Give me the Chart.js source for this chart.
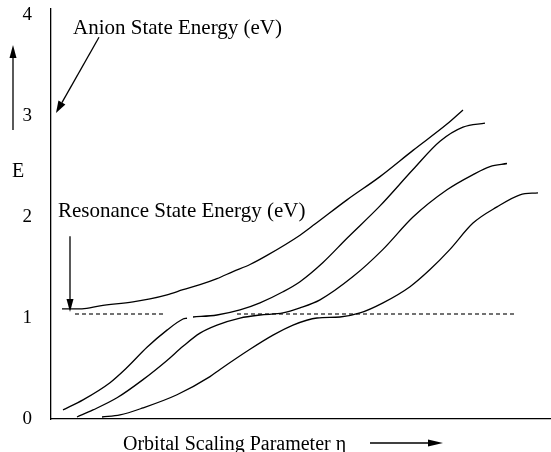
<!DOCTYPE html>
<html>
<head>
<meta charset="utf-8">
<script src="https://cdn.jsdelivr.net/npm/chart.js@4/dist/chart.umd.min.js"></script>
<style>
  body { margin: 0; background: #fff; }
  #wrap { width: 551px; height: 452px; position: relative; }
</style>
</head>
<body>
<div id="wrap"><canvas id="myChart"></canvas></div>
<script>
// orbital scaling parameter (arbitrary units 0-10) and energy (eV)
const curveA_eta = [0.22, 0.62, 0.98, 1.64, 1.98, 2.32, 2.64, 2.98, 3.32, 3.64, 3.98, 4.32, 4.98, 5.28, 5.92, 6.58, 7.24, 7.92, 8.24];
const curveA_E = [1.09, 1.09, 1.12, 1.16, 1.19, 1.23, 1.28, 1.33, 1.39, 1.46, 1.53, 1.62, 1.82, 1.93, 2.17, 2.40, 2.66, 2.92, 3.06];

const curveB_eta = [0.24, 0.64, 1.18, 1.52, 1.92, 2.32, 2.64, 2.72, 2.78, 2.84, 3.32, 3.78, 4.18, 4.64, 4.98, 5.44, 5.92, 6.58, 7.24, 7.78, 8.24, 8.68];
const curveB_E = [0.09, 0.19, 0.36, 0.51, 0.71, 0.88, 0.99, 1.00, null, 1.01, 1.03, 1.08, 1.15, 1.26, 1.36, 1.55, 1.79, 2.11, 2.47, 2.75, 2.89, 2.93];

const curveC_eta = [0.52, 0.84, 1.32, 1.84, 2.32, 2.64, 2.98, 3.32, 3.78, 4.18, 4.64, 4.98, 5.38, 6.04, 6.64, 7.24, 7.92, 8.44, 8.78, 9.12];
const curveC_E = [0.02, 0.09, 0.21, 0.39, 0.58, 0.72, 0.85, 0.93, 1.00, 1.03, 1.05, 1.10, 1.18, 1.41, 1.68, 2.00, 2.27, 2.42, 2.50, 2.53];

const curveD_eta = [1.02, 1.38, 1.84, 2.52, 3.18, 3.38, 3.98, 4.44, 4.84, 5.32, 5.78, 6.18, 6.64, 7.18, 7.58, 7.98, 8.44, 8.92, 9.38, 9.74];
const curveD_E = [0.02, 0.04, 0.11, 0.24, 0.42, 0.49, 0.69, 0.83, 0.93, 1.00, 1.01, 1.05, 1.15, 1.31, 1.48, 1.68, 1.94, 2.10, 2.22, 2.24];

// resonance reference level (dashed), drawn in two pieces
const resonanceLevel = 1.04;
const dash1_eta = [0.48, 2.24];
const dash2_eta = [3.72, 9.32];

const yTicks = [0, 1, 2, 3, 4];

const serif = "'Liberation Serif', 'Times New Roman', serif";

function toPoints(xs, ys) {
  return xs.map((v, i) => ({ x: v, y: ys[i] }));
}

function curve(xs, ys) {
  return {
    data: toPoints(xs, ys),
    borderColor: "#000",
    borderWidth: 1.3,
    pointRadius: 0,
    fill: false,
    cubicInterpolationMode: "monotone",
    spanGaps: false,
  };
}

function dashed(xs) {
  return {
    data: xs.map((v) => ({ x: v, y: resonanceLevel })),
    borderColor: "#444",
    borderWidth: 1.3,
    borderDash: [4, 3],
    pointRadius: 0,
    fill: false,
  };
}

function drawArrow(ctx, x1, y1, x2, y2, headLen, headHalf) {
  const ang = Math.atan2(y2 - y1, x2 - x1);
  const bx = x2 - headLen * Math.cos(ang);
  const by = y2 - headLen * Math.sin(ang);
  ctx.beginPath();
  ctx.moveTo(x1, y1);
  ctx.lineTo(bx, by);
  ctx.stroke();
  ctx.beginPath();
  ctx.moveTo(x2, y2);
  ctx.lineTo(bx + headHalf * Math.sin(ang), by - headHalf * Math.cos(ang));
  ctx.lineTo(bx - headHalf * Math.sin(ang), by + headHalf * Math.cos(ang));
  ctx.closePath();
  ctx.fill();
}

/*=============== LABELS AND ARROWS ===============*/
const annotations = {
  id: "annotations",
  afterDraw(chart) {
    const { ctx, chartArea } = chart;
    const x = chart.scales.x, y = chart.scales.y;
    ctx.save();
    ctx.fillStyle = "#000";
    ctx.strokeStyle = "#000";
    ctx.lineWidth = 1.3;
    ctx.textBaseline = "middle";

    // anion state label + arrow onto the axis near E = 3
    ctx.font = "21px " + serif;
    ctx.textAlign = "left";
    ctx.fillText("Anion State Energy (eV)", x.getPixelForValue(0.44), y.getPixelForValue(3.87));
    drawArrow(ctx, x.getPixelForValue(0.96), y.getPixelForValue(3.78),
      x.getPixelForValue(0.1), y.getPixelForValue(3.03), 12, 4);

    // resonance state label + arrow down to curve A start
    ctx.fillText("Resonance State Energy (eV)", x.getPixelForValue(0.14), y.getPixelForValue(2.05));
    drawArrow(ctx, x.getPixelForValue(0.38), y.getPixelForValue(1.81),
      x.getPixelForValue(0.38), y.getPixelForValue(1.06), 13, 3.5);

    // y axis name and upward arrow
    ctx.font = "20px " + serif;
    ctx.textAlign = "center";
    ctx.fillText("E", 18, 172);
    drawArrow(ctx, 13, 130, 13, 45, 13, 3.5);

    // x axis name and arrow
    ctx.textAlign = "left";
    ctx.fillText("Orbital Scaling Parameter \u03b7", 123, chartArea.bottom + 26);
    drawArrow(ctx, 370, chartArea.bottom + 24, 443, chartArea.bottom + 24, 15, 3.5);
    ctx.restore();
  },
};

const ctx = document.getElementById("myChart").getContext("2d");
const chart = new Chart(ctx, {
  type: "line",
  data: {
    datasets: [
      curve(curveA_eta, curveA_E),
      curve(curveB_eta, curveB_E),
      curve(curveC_eta, curveC_E),
      curve(curveD_eta, curveD_E),
      dashed(dash1_eta),
      dashed(dash2_eta),
    ],
  },
  options: {
    responsive: true,
    maintainAspectRatio: false,
    animation: false,
    layout: { padding: { top: 9, bottom: 33, left: 0, right: 0 } },
    plugins: {
      legend: { display: false },
      tooltip: { enabled: false },
    },
    scales: {
      x: {
        type: "linear",
        min: 0,
        max: 10,
        grid: { display: false, drawTicks: false },
        border: { display: true, color: "#000", width: 1.3 },
        ticks: { display: false },
      },
      y: {
        type: "linear",
        min: 0,
        max: 4.06,
        afterFit: (scale) => {
          scale.width = 51;
          scale.paddingTop = 0;
          scale.paddingBottom = 0;
        },
        afterBuildTicks: (scale) => { scale.ticks = yTicks.map((v) => ({ value: v })); },
        grid: { display: false, drawTicks: false },
        border: { display: true, color: "#000", width: 1.3 },
        ticks: {
          padding: 19,
          color: "#000",
          font: { family: serif, size: 19 },
        },
      },
    },
  },
  plugins: [annotations],
});
</script>
</body>
</html>
